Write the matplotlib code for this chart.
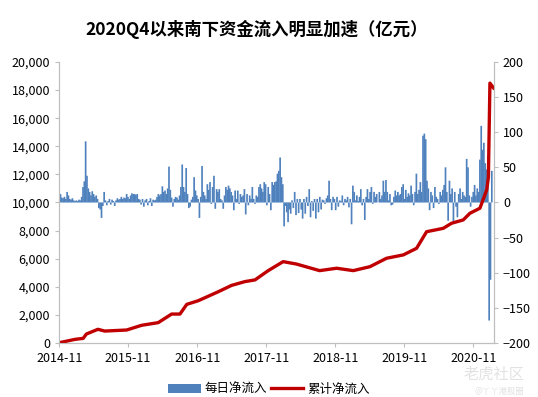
import pandas as pd
import matplotlib.pyplot as plt
from matplotlib.ticker import FuncFormatter

plt.rcParams['font.family'] = ['Noto Sans CJK SC', 'DejaVu Sans']

# daily net inflow (亿元) at roughly weekly steps from 2014-11-17
daily = [
    16, 12, 7, 6, 8, 5, 15, 10, 5, 4,
    6, 3, 2, 3, 2, 4, 3, 8, 22, 30,
    87, 38, 20, 15, 10, 16, 12, 8, 10, 5,
    -8, -10, -22, -5, 15, 3, -4, 2, 5, -3,
    4, 2, -5, 3, 6, 4, 5, 8, 5, 7,
    6, 12, 8, 5, 10, 13, 12, 12, 11, 12,
    5, 4, -3, 5, -6, 3, 5, -4, 2, 6,
    -5, 4, 3, 4, 8, 12, 10, 12, 23, 15,
    17, 12, 20, 51, 18, 7, -6, 5, 8, 7,
    4, 10, 22, 54, 22, 15, 49, 12, -8, -6,
    4, 8, 36, 17, 10, 5, -22, 8, 52, 15,
    10, 5, 26, 18, 29, -2, 22, 38, -9, 19,
    15, 19, 5, 3, -9, 10, 22, 18, 24, 20,
    15, 10, -11, 17, 5, 17, -2, 12, 8, 10,
    19, -17, 12, -4, 10, 5, 22, 5, -2, 10,
    8, 22, 26, 20, 15, 29, 26, -4, 22, 12,
    -11, 29, 25, 29, 30, 41, 45, 64, 36, 26,
    -34, -5, -14, -28, -10, -16, 3, -8, 15, -18,
    5, -15, 5, -10, -23, 5, -16, 8, -5, 19,
    -21, 2, -12, 5, -23, 5, -14, 8, -10, 4,
    3, -2, 6, 10, 31, 5, -11, 8, 5, -11,
    8, -6, 3, 2, 10, -4, 5, 3, 8, -7,
    5, -31, 24, 15, 3, 10, 2, 8, 19, -4,
    5, -25, 8, 19, 5, 15, 22, -2, 15, 8,
    12, 0, 15, 5, 10, 31, 15, 32, 15, 3,
    12, -4, -3, 8, 17, 10, 15, 10, 12, 22,
    26, 5, 18, 8, 13, 10, 24, 12, -4, 15,
    41, 12, 18, 29, 15, 95, 98, 90, 31, 20,
    -11, 15, 10, -8, 22, 8, 5, -2, 15, 10,
    18, 25, 50, 15, -26, 31, 12, 20, -28, 15,
    -6, -21, 12, 20, 5, 15, 10, 8, 62, 50,
    10, -6, 8, 15, 25, 10, 20, 15, 61, 109,
    75, 85, 56, 47, 66, -168, -110, 45,
]
daily_dates = pd.date_range('2014-11-17', periods=len(daily), freq='7D')

# cumulative net inflow (亿元)
cum_dates = pd.to_datetime([
    '2014-11-17', '2015-02-09', '2015-03-24', '2015-04-10', '2015-06-10',
    '2015-07-16', '2015-11-09', '2016-01-27', '2016-04-24', '2016-07-04',
    '2016-08-17', '2016-09-22', '2016-11-22', '2017-03-08', '2017-05-17',
    '2017-07-27', '2017-09-18', '2017-11-27', '2018-02-14', '2018-04-25',
    '2018-08-26', '2018-11-24', '2019-02-20', '2019-05-19', '2019-08-15',
    '2019-11-12', '2020-01-21', '2020-03-14', '2020-06-10', '2020-07-24',
    '2020-09-24', '2020-10-29', '2020-12-21', '2021-01-26', '2021-02-04',
    '2021-02-12', '2021-03-03',
])
cumulative = [
    20, 260, 330, 640, 975,
    850, 925, 1260, 1450, 2060,
    2060, 2750, 3010, 3650, 4100,
    4370, 4490, 5150, 5790, 5620,
    5150, 5320, 5150, 5430, 6030,
    6270, 6740, 7920, 8160, 8520,
    8760, 9230, 9590, 10890, 11800,
    18490, 18150,
]

tick_labels = ['2014-11', '2015-11', '2016-11', '2017-11', '2018-11', '2019-11', '2020-11']

blue = '#4F81BD'
red = '#C00000'
grey = '#BFBFBF'

fig = plt.figure(figsize=(5.38, 3.97), dpi=100)
ax = fig.add_axes([0.110, 0.136, 0.808, 0.708])
ax2 = ax.twinx()

ax2.bar(daily_dates, daily, width=9, color=blue, linewidth=0, snap=False,
        label='每日净流入')
ax.plot(cum_dates, cumulative, color=red, linewidth=2.4, label='累计净流入')

ax.set_zorder(ax2.get_zorder() + 1)
ax.patch.set_visible(False)

ax.set_ylim(0, 20000)
ax.set_yticks(range(0, 20001, 2000))
ax.yaxis.set_major_formatter(FuncFormatter(lambda v, p: f'{int(v):,}'))
ax2.set_ylim(-200, 200)
ax2.set_yticks(range(-200, 201, 50))

ax.set_xlim(pd.Timestamp('2014-11-17'), pd.Timestamp('2021-03-05'))
ticks = pd.to_datetime([t + '-17' for t in tick_labels])
ax.set_xticks(ticks)
ax.set_xticklabels(tick_labels)

for a in (ax, ax2):
    for s in a.spines.values():
        s.set_color(grey)
    a.spines['top'].set_visible(False)
    a.tick_params(colors=grey, labelcolor='#000000', labelsize=9, length=3)

fig.text(0.477, 0.925, '2020Q4以来南下资金流入明显加速（亿元）', fontsize=12.5,
         fontweight='bold', ha='center', va='center')

h1, l1 = ax2.get_legend_handles_labels()
h2, l2 = ax.get_legend_handles_labels()
fig.legend(h1 + h2, l1 + l2, loc='lower center', bbox_to_anchor=(0.5, -0.025),
           ncol=2, frameon=False, fontsize=9, handlelength=2.6,
           columnspacing=0.3, handletextpad=0.3)

fig.text(0.975, 0.045, '老虎社区', fontsize=11, color='#E2E2E2', ha='right')
fig.text(0.975, 0.008, '@丫丫港股圈', fontsize=6, color='#E2E2E2', ha='right')

fig.savefig('out.png', dpi=100)
